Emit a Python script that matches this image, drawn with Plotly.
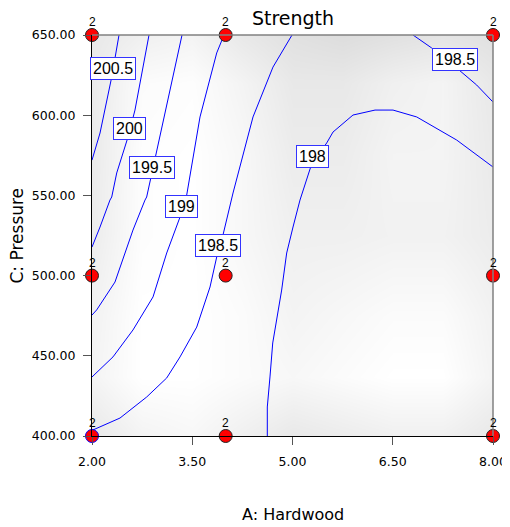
import plotly.graph_objects as go

# ---- data ----
# contour polylines (A: Hardwood, C: Pressure)
c2005_x = [2.404, 2.295, 2.120, 2.0]
c2005_y = [650, 623.8, 588.9, 572.0]
c200_x = [2.853, 2.643, 2.539, 2.370, 2.295, 2.269, 2.120, 2.0]
c200_y = [650, 603.2, 586.4, 564.0, 549.0, 547.1, 530.3, 517.8]
c1995_x = [3.347, 3.212, 3.017, 2.818, 2.793, 2.613, 2.344, 2.070, 2.0]
c1995_y = [650, 623.8, 586.4, 549.0, 547.1, 528.4, 496.0, 478.6, 475.4]
c199_x = [3.975, 3.866, 3.616, 3.417, 3.317, 3.118, 2.913, 2.613, 2.314, 2.0]
c199_y = [650, 638.8, 598.9, 550.2, 536.5, 514.1, 486.7, 466.1, 449.3, 436.8]
c1985a_x = [4.993, 4.708, 4.409, 4.215, 4.110, 3.960, 3.866, 3.766, 3.567, 3.317, 3.118, 2.818, 2.419, 2.0]
c1985a_y = [650, 630.0, 598.9, 569.0, 551.5, 525.3, 511.6, 492.9, 467.9, 449.3, 436.2, 424.3, 411.2, 403.5]
c1985b_x = [6.803, 7.083, 7.457, 7.756, 8.0]
c1985b_y = [650, 641.9, 629.4, 618.8, 608.2]
c198_x = [8.0, 7.457, 6.859, 6.504, 6.235, 5.905, 5.606, 5.512, 5.287, 5.112, 5.008, 4.913, 4.838, 4.738, 4.704, 4.663, 4.623, 4.623]
c198_y = [567.7, 584.5, 598.9, 603.2, 603.2, 600.1, 589.5, 582.7, 569.6, 547.1, 530.3, 514.1, 491.0, 467.9, 458.0, 436.8, 418.1, 400]

contour_lines = [
    (c2005_x, c2005_y), (c200_x, c200_y), (c1995_x, c1995_y), (c199_x, c199_y),
    (c1985a_x, c1985a_y), (c1985b_x, c1985b_y), (c198_x, c198_y),
]

# contour labels
label_text = ["200.5", "200", "199.5", "199", "198.5", "198", "198.5"]
label_x = [2.314, 2.554, 2.898, 3.332, 3.886, 5.306, 7.431]
label_y = [629.4, 592.0, 567.7, 542.8, 518.5, 574.1, 635.0]

# design points
pt_x = [2, 4, 8, 2, 4, 8, 2, 4, 8]
pt_y = [400, 400, 400, 500, 500, 500, 650, 650, 650]
pt_count = ["2"] * 9

# background shading (0 = white, 1 = grey)
bg_x = [2, 2.75, 3.5, 4.25, 5, 5.75, 6.5, 7.25, 8]
bg_y = [400, 437, 475, 525, 575, 620, 650]
bg_z = [
    [0.6, 0.3, 0.2, 0.4, 0.6, 0.5, 0.4, 0.4, 0.6],
    [0.3, 0.0, 0.0, 0.1, 0.2, 0.1, 0.0, 0.0, 0.3],
    [0.35, 0.0, 0.0, 0.1, 0.3, 0.2, 0.1, 0.1, 0.35],
    [0.5, 0.05, 0.0, 0.2, 0.4, 0.4, 0.35, 0.35, 0.5],
    [0.55, 0.05, 0.0, 0.2, 0.5, 0.5, 0.3, 0.3, 0.55],
    [0.55, 0.1, 0.05, 0.3, 0.6, 0.6, 0.4, 0.3, 0.6],
    [0.6, 0.4, 0.3, 0.6, 0.8, 0.9, 0.8, 0.7, 0.8],
]

x_ticks = [2, 3.5, 5, 6.5, 8]
y_ticks = [400, 450, 500, 550, 600, 650]

FONT = "DejaVu Sans, Verdana, sans-serif"
LFONT = "Liberation Sans, Arial, sans-serif"

fig = go.Figure()

fig.add_trace(go.Heatmap(
    x=bg_x, y=bg_y, z=bg_z, zsmooth="best", showscale=False,
    colorscale=[[0, "#ffffff"], [1, "#d9d9d9"]], zmin=0, zmax=1, hoverinfo="skip",
))

for lx, ly in contour_lines:
    fig.add_trace(go.Scatter(x=lx, y=ly, mode="lines",
                             line=dict(color="#0000ff", width=1), hoverinfo="skip"))

for t, x, y in zip(label_text, label_x, label_y):
    fig.add_annotation(x=x, y=y, text=t, showarrow=False,
                       font=dict(family=LFONT, size=16, color="#000000"),
                       bgcolor="#ffffff", bordercolor="#3333ff", borderwidth=1, borderpad=2)

line_cols = ["#0000ff"] + ["#222222"] * 8
fig.add_trace(go.Scatter(
    x=pt_x, y=pt_y, mode="markers",
    marker=dict(color="#ff0000", size=13, line=dict(color=line_cols, width=1)),
    cliponaxis=False, hoverinfo="skip",
))
for t, x, y in zip(pt_count, pt_x, pt_y):
    fig.add_annotation(x=x, y=y, text=t, showarrow=False, yshift=13,
                       font=dict(family=LFONT, size=12, color="#000000"))

fig.add_annotation(xref="paper", yref="paper", x=0.5, y=-0.197, text="A: Hardwood",
                   showarrow=False, yanchor="middle",
                   font=dict(family=FONT, size=16, color="#000000"))
fig.add_annotation(xref="paper", yref="paper", x=-0.1895, y=0.5, text="C: Pressure",
                   showarrow=False, textangle=-90, xanchor="center", yanchor="middle",
                   font=dict(family=FONT, size=17, color="#000000"))

fig.update_layout(
    width=502, height=519,
    margin=dict(l=84, r=17, t=27, b=91),
    paper_bgcolor="#ffffff", plot_bgcolor="#ffffff",
    showlegend=False,
    title=dict(text="Strength", x=285 / 502, xref="container", y=1 - 10 / 519, yref="container",
               xanchor="center", yanchor="middle",
               font=dict(family=FONT, size=19, color="#000000")),
    font=dict(family=FONT, color="#000000"),
)
fig.update_xaxes(
    range=[2, 8], tickvals=x_ticks, ticktext=[f"{v:.2f}" for v in x_ticks],
    showgrid=False, zeroline=False, showline=True, linecolor="#000000", linewidth=1,
    ticks="outside", ticklen=8, tickcolor="#555555", automargin=False,
    ticklabelstandoff=6,
    tickfont=dict(family=FONT, size=12.5, color="#000000"),
)
fig.update_yaxes(
    range=[400, 650], tickvals=y_ticks, ticktext=[f"{v:.2f}" for v in y_ticks],
    showgrid=False, zeroline=False, showline=True, linecolor="#000000", linewidth=1,
    ticks="outside", ticklen=8, tickcolor="#555555", automargin=False,
    ticklabelstandoff=5,
    tickfont=dict(family=FONT, size=12.5, color="#000000"),
)
fig.add_shape(type="line", xref="x domain", yref="y domain", x0=0, x1=1, y0=1, y1=1,
              line=dict(color="#808080", width=1.5))
fig.add_shape(type="line", xref="x domain", yref="y domain", x0=1, x1=1, y0=0, y1=1,
              line=dict(color="#808080", width=1.5))

fig.write_html("out.html")
